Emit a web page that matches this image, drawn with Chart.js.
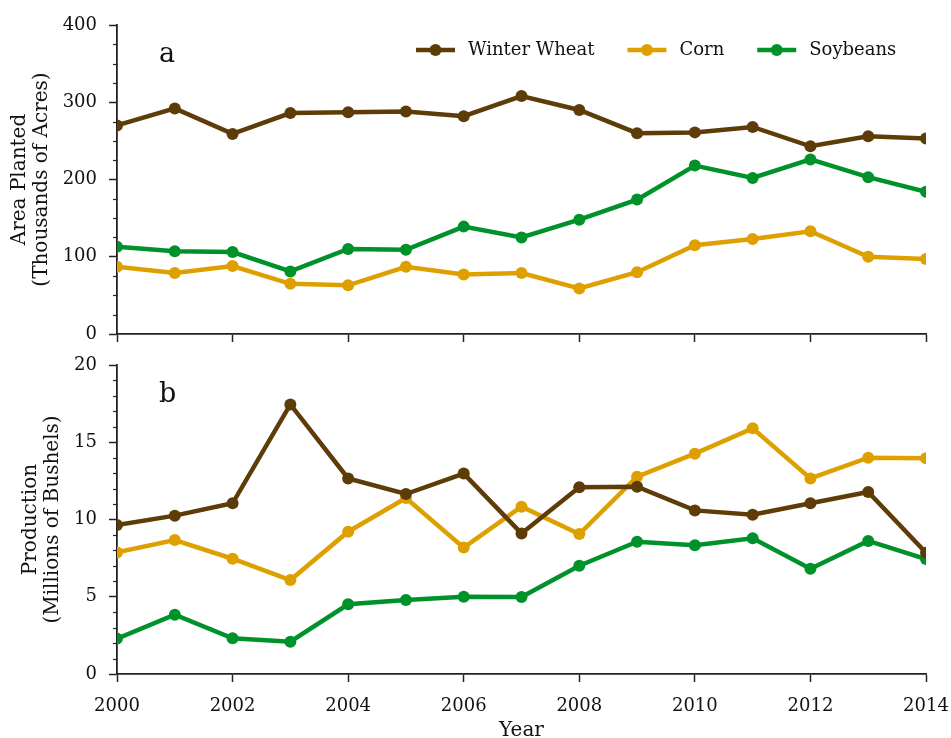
<!DOCTYPE html>
<html>
<head>
<meta charset="utf-8">
<title>Area planted and production, 2000–2014</title>
<script src="https://cdn.jsdelivr.net/npm/chart.js@4.4.1/dist/chart.umd.min.js"></script>
<style>
  html, body { margin: 0; padding: 0; background: #ffffff; }
  #wrap { position: relative; width: 951px; height: 738px; }
  #wrap canvas { position: absolute; left: 0; top: 0; }
</style>
</head>
<body>
<div id="wrap">
  <canvas id="areaChart" width="951" height="738"></canvas>
  <canvas id="prodChart" width="951" height="738"></canvas>
</div>
<script>
// ---- data ----
const years = [2000, 2001, 2002, 2003, 2004, 2005, 2006, 2007, 2008, 2009, 2010, 2011, 2012, 2013, 2014];
const seriesNames = ['Winter Wheat', 'Corn', 'Soybeans'];
const seriesColors = ['#5e3c08', '#dea000', '#00922a'];

// Area planted, thousands of acres
const areaWheat = [270, 292, 259, 286, 287, 288, 282, 308, 290, 260, 261, 268, 243, 256, 253];
const areaCorn  = [87, 79, 88, 65, 63, 87, 77, 79, 59, 80, 115, 123, 133, 100, 97];
const areaSoy   = [113, 107, 106, 81, 110, 109, 139, 125, 148, 174, 218, 202, 226, 203, 184];

// Production, millions of bushels
const prodWheat = [9.64, 10.25, 11.05, 17.45, 12.66, 11.65, 12.97, 9.1, 12.08, 12.12, 10.59, 10.31, 11.05, 11.78, 7.85];
const prodCorn  = [7.87, 8.67, 7.46, 6.08, 9.21, 11.39, 8.18, 10.83, 9.06, 12.77, 14.26, 15.9, 12.66, 14.0, 13.96];
const prodSoy   = [2.29, 3.84, 2.31, 2.09, 4.51, 4.79, 5.0, 4.98, 7.01, 8.56, 8.33, 8.78, 6.81, 8.61, 7.44];

const areaTicks = [0, 100, 200, 300, 400];
const prodTicks = [0, 5, 10, 15, 20];
const yearTicks = [2000, 2002, 2004, 2006, 2008, 2010, 2012, 2014];

// ---- styling ----
const FONT = "'DejaVu Serif', 'Liberation Serif', serif";
const INK = '#222222';

function makeDatasets(values) {
  return values.map((vals, i) => ({
    label: seriesNames[i],
    data: years.map((yr, k) => ({ x: yr, y: vals[k] })),
    borderColor: seriesColors[i],
    backgroundColor: seriesColors[i],
    pointBackgroundColor: seriesColors[i],
    pointBorderColor: seriesColors[i],
    pointBorderWidth: 0,
    pointRadius: 6,
    borderWidth: 4.5,
    tension: 0,
    fill: false,
    clip: 0
  }));
}

// short minor ticks between the labelled ones on the y axis
const minorTicks = {
  id: 'minorTicks',
  afterDraw(chart, args, opts) {
    const y = chart.scales.y;
    const left = chart.chartArea.left;
    const ctx = chart.ctx;
    ctx.save();
    ctx.strokeStyle = INK;
    ctx.lineWidth = 1.2;
    const n = Math.round((y.max - y.min) / opts.step);
    for (let k = 0; k <= n; k++) {
      const v = y.min + k * opts.step;
      if (Math.abs(v / opts.major - Math.round(v / opts.major)) < 1e-6) continue;
      const py = Math.round(y.getPixelForValue(v)) + 0.5;
      ctx.beginPath();
      ctx.moveTo(left - 4, py);
      ctx.lineTo(left, py);
      ctx.stroke();
    }
    ctx.restore();
  }
};

// panel letter in the upper-left of the plot
const panelTag = {
  id: 'panelTag',
  afterDraw(chart, args, opts) {
    const ctx = chart.ctx;
    ctx.save();
    ctx.fillStyle = '#111';
    ctx.font = '27px ' + FONT;
    ctx.textAlign = 'left';
    ctx.textBaseline = 'alphabetic';
    ctx.fillText(opts.text, chart.chartArea.left + 42, chart.chartArea.top + 37);
    ctx.restore();
  }
};

// one-row legend drawn inside the plot area from the dataset list
const inlineLegend = {
  id: 'inlineLegend',
  afterDraw(chart, args, opts) {
    if (!opts.show) return;
    const ctx = chart.ctx;
    ctx.save();
    ctx.font = '18px ' + FONT;
    ctx.textBaseline = 'middle';
    ctx.textAlign = 'left';
    let x = opts.x;
    const y = opts.y;
    chart.data.datasets.forEach(ds => {
      ctx.strokeStyle = ds.borderColor;
      ctx.lineWidth = 4.5;
      ctx.beginPath();
      ctx.moveTo(x, y);
      ctx.lineTo(x + 39, y);
      ctx.stroke();
      ctx.fillStyle = ds.borderColor;
      ctx.beginPath();
      ctx.arc(x + 19.5, y, 6, 0, Math.PI * 2);
      ctx.fill();
      ctx.fillStyle = '#111';
      ctx.fillText(ds.label, x + 52, y);
      x += 52 + ctx.measureText(ds.label).width + 33;
    });
    ctx.restore();
  }
};

function axisX(showLabels) {
  return {
    type: 'linear',
    min: 2000,
    max: 2014,
    afterBuildTicks: (scale) => { scale.ticks = yearTicks.map(v => ({ value: v })); },
    ticks: {
      display: showLabels,
      callback: (v) => String(v),
      font: { family: FONT, size: 18 },
      color: '#111',
      padding: 14,
      maxRotation: 0
    },
    grid: {
      drawOnChartArea: false,
      drawTicks: true,
      tickLength: 8,
      tickColor: INK,
      tickWidth: 1.5
    },
    border: { display: true, color: INK, width: 1.8 },
    title: showLabels ? {
      display: true,
      text: 'Year',
      font: { family: FONT, size: 20, lineHeight: 0.75 },
      color: '#111',
      padding: { top: 0, bottom: 0 }
    } : { display: false },
    afterFit: (scale) => {
      scale.height = showLabels ? 64 : 8;
      scale.paddingLeft = 0;
      scale.paddingRight = 0;
    }
  };
}

function axisY(tickVals, titleLines, titlePadTop) {
  return {
    type: 'linear',
    min: tickVals[0],
    max: tickVals[tickVals.length - 1],
    afterBuildTicks: (scale) => { scale.ticks = tickVals.map(v => ({ value: v })); },
    ticks: {
      callback: (v) => String(v),
      font: { family: FONT, size: 18 },
      color: '#111',
      padding: 12
    },
    grid: {
      drawOnChartArea: false,
      drawTicks: true,
      tickLength: 8,
      tickColor: INK,
      tickWidth: 1.5
    },
    border: { display: true, color: INK, width: 1.8 },
    title: {
      display: true,
      text: titleLines,
      font: { family: FONT, size: 20, lineHeight: 1.1 },
      color: '#111',
      padding: { top: titlePadTop, bottom: 0 }
    },
    afterFit: (scale) => { scale.width = 117; }
  };
}

function baseOptions(pad, xAxis, yAxis, tag, minor, legendOn) {
  return {
    responsive: false,
    animation: false,
    devicePixelRatio: 1,
    layout: { padding: pad },
    scales: { x: xAxis, y: yAxis },
    plugins: {
      legend: { display: false },
      tooltip: { enabled: false },
      panelTag: { text: tag },
      minorTicks: minor,
      inlineLegend: { show: legendOn, x: 416, y: 50 }
    }
  };
}

new Chart(document.getElementById('areaChart'), {
  type: 'line',
  data: { datasets: makeDatasets([areaWheat, areaCorn, areaSoy]) },
  options: baseOptions(
    { top: 25, right: 25, bottom: 396, left: 0 },
    axisX(false),
    axisY(areaTicks, ['Area Planted', '(Thousands of Acres)'], 9),
    'a',
    { step: 25, major: 100 },
    true
  ),
  plugins: [minorTicks, panelTag, inlineLegend]
});

new Chart(document.getElementById('prodChart'), {
  type: 'line',
  data: { datasets: makeDatasets([prodWheat, prodCorn, prodSoy]) },
  options: baseOptions(
    { top: 365, right: 25, bottom: 0, left: 0 },
    axisX(true),
    axisY(prodTicks, ['Production', '(Millions of Bushels)'], 20),
    'b',
    { step: 1, major: 5 },
    false
  ),
  plugins: [minorTicks, panelTag, inlineLegend]
});
</script>
</body>
</html>
